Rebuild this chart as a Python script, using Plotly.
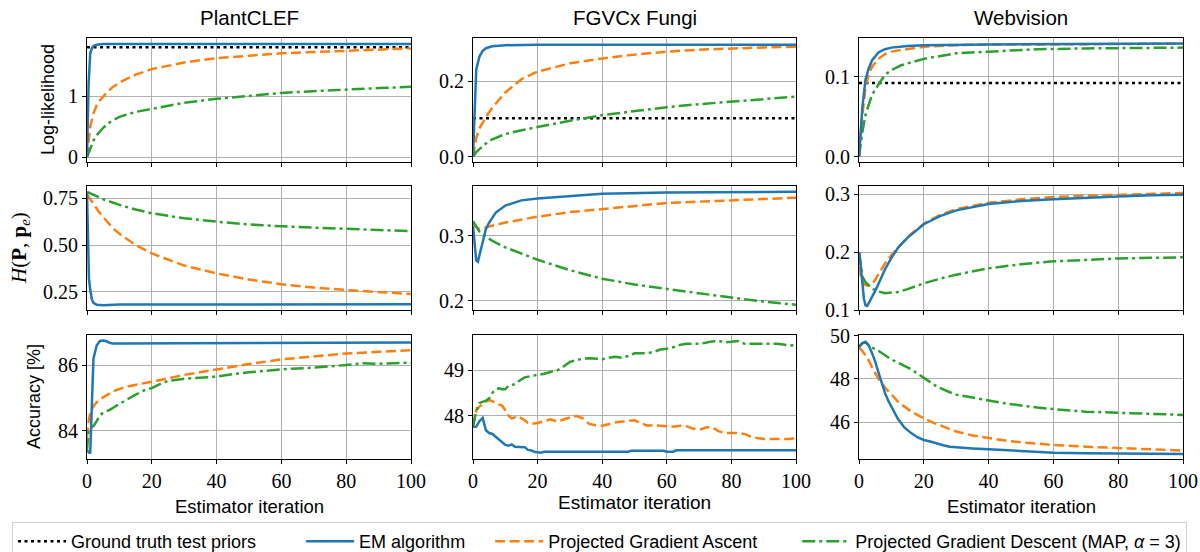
import plotly.graph_objects as go

# ---------------- DATA ----------------
datasets = ["PlantCLEF", "FGVCx Fungi", "Webvision"]
series_names = ["Ground truth test priors", "EM algorithm", "Projected Gradient Ascent",
                "Projected Gradient Descent (MAP, <i>α</i> = 3)"]
row_labels = ["Log-likelihood", "<i>H</i>(<b>P</b>, <b>p</b><sub><i>e</i></sub>)", "Accuracy [%]"]
x_label = "Estimator iteration"
x_ticks = [0, 20, 40, 60, 80, 100]

# Ground truth log-likelihood levels (row 1 only)
gt_ll = [1.80, 0.102, 0.092]

# --- Row 1: Log-likelihood ---
ll_plant_em_x = [0, 0.5, 1, 1.5, 2, 3, 5, 10, 100]
ll_plant_em_y = [0, 1.2, 1.70, 1.78, 1.82, 1.84, 1.85, 1.85, 1.85]
ll_plant_pga_x = [0, 0.5, 1, 2, 3, 4, 6, 8, 10, 15, 20, 30, 40, 50, 60, 70, 80, 90, 100]
ll_plant_pga_y = [0, 0.3, 0.5, 0.72, 0.85, 0.93, 1.05, 1.15, 1.22, 1.35, 1.44, 1.55, 1.62, 1.66, 1.70, 1.72, 1.74, 1.76, 1.78]
ll_plant_pgd_x = [0, 1, 2, 3, 5, 7, 10, 15, 20, 30, 40, 50, 60, 70, 80, 90, 100]
ll_plant_pgd_y = [0, 0.15, 0.27, 0.36, 0.48, 0.57, 0.66, 0.74, 0.79, 0.89, 0.955, 1.0, 1.05, 1.08, 1.11, 1.13, 1.15]

ll_fungi_em_x = [0, 0.5, 1, 2, 3, 4, 6, 10, 20, 100]
ll_fungi_em_y = [0, 0.12, 0.23, 0.265, 0.28, 0.287, 0.292, 0.295, 0.296, 0.296]
ll_fungi_pga_x = [0, 1, 2, 3, 4, 6, 8, 10, 15, 20, 30, 40, 50, 60, 70, 80, 90, 100]
ll_fungi_pga_y = [0, 0.05, 0.075, 0.09, 0.105, 0.13, 0.15, 0.17, 0.205, 0.225, 0.247, 0.26, 0.27, 0.278, 0.283, 0.287, 0.289, 0.291]
ll_fungi_pgd_x = [0, 1, 2, 4, 6, 10, 15, 20, 30, 40, 50, 60, 70, 80, 90, 100]
ll_fungi_pgd_y = [0, 0.012, 0.02, 0.035, 0.046, 0.06, 0.07, 0.079, 0.095, 0.110, 0.121, 0.131, 0.139, 0.146, 0.153, 0.159]

ll_web_em_x = [0, 0.5, 1, 2, 3, 4, 6, 8, 10, 15, 20, 40, 100]
ll_web_em_y = [0, 0.035, 0.06, 0.096, 0.11, 0.12, 0.13, 0.134, 0.136, 0.138, 0.139, 0.140, 0.141]
ll_web_pga_x = [0, 0.5, 1, 2, 3, 4, 6, 8, 10, 13, 20, 30, 40, 60, 100]
ll_web_pga_y = [0, 0.03, 0.05, 0.087, 0.103, 0.112, 0.122, 0.128, 0.131, 0.133, 0.137, 0.139, 0.140, 0.140, 0.141]
ll_web_pgd_x = [0, 1, 2, 4, 6, 8, 10, 13, 20, 30, 40, 55, 70, 100]
ll_web_pgd_y = [0, 0.03, 0.052, 0.077, 0.09, 0.102, 0.108, 0.114, 0.122, 0.129, 0.131, 0.134, 0.135, 0.136]

# --- Row 2: H(P, p_e) ---
h_plant_em_x = [0, 0.3, 0.6, 1, 1.5, 2, 3, 5, 10, 100]
h_plant_em_y = [0.78, 0.5, 0.32, 0.26, 0.21, 0.19, 0.18, 0.178, 0.181, 0.183]
h_plant_pga_x = [0, 2, 4, 6, 8, 10, 15, 20, 30, 40, 50, 60, 70, 80, 90, 100]
h_plant_pga_y = [0.77, 0.72, 0.67, 0.63, 0.59, 0.56, 0.50, 0.455, 0.39, 0.348, 0.315, 0.29, 0.272, 0.259, 0.247, 0.238]
h_plant_pgd_x = [0, 2, 5, 10, 15, 20, 30, 40, 50, 60, 70, 80, 90, 100]
h_plant_pgd_y = [0.785, 0.77, 0.745, 0.715, 0.69, 0.67, 0.643, 0.625, 0.61, 0.60, 0.592, 0.585, 0.58, 0.575]

h_fungi_em_x = [0, 0.5, 1, 1.5, 2, 3, 4, 5, 7, 10, 15, 20, 30, 40, 60, 100]
h_fungi_em_y = [0.315, 0.29, 0.262, 0.26, 0.27, 0.287, 0.31, 0.32, 0.335, 0.346, 0.354, 0.357, 0.361, 0.364, 0.366, 0.367]
h_fungi_pga_x = [0, 1, 2, 3, 5, 10, 15, 20, 30, 40, 50, 60, 70, 80, 90, 100]
h_fungi_pga_y = [0.32, 0.313, 0.31, 0.311, 0.314, 0.32, 0.325, 0.329, 0.336, 0.341, 0.346, 0.35, 0.352, 0.354, 0.356, 0.358]
h_fungi_pgd_x = [0, 1, 2, 3, 4, 6, 10, 15, 20, 30, 40, 50, 60, 70, 80, 90, 100]
h_fungi_pgd_y = [0.322, 0.313, 0.306, 0.301, 0.298, 0.292, 0.282, 0.272, 0.263, 0.247, 0.234, 0.225, 0.218, 0.211, 0.205, 0.199, 0.194]

h_web_em_x = [0, 0.5, 1, 1.5, 2, 2.5, 3, 4, 5, 6, 8, 10, 12, 15, 20, 25, 30, 40, 50, 60, 70, 80, 90, 100]
h_web_em_y = [0.2, 0.18, 0.15, 0.12, 0.108, 0.107, 0.112, 0.122, 0.133, 0.145, 0.17, 0.19, 0.207, 0.225, 0.248, 0.262, 0.272, 0.283, 0.288, 0.291, 0.294, 0.296, 0.298, 0.299]
h_web_pga_x = [0, 0.5, 1, 2, 3, 4, 5, 6, 8, 10, 12, 15, 20, 25, 30, 40, 50, 60, 70, 80, 90, 100]
h_web_pga_y = [0.2, 0.16, 0.148, 0.143, 0.142, 0.145, 0.152, 0.162, 0.18, 0.195, 0.208, 0.226, 0.249, 0.264, 0.274, 0.285, 0.291, 0.295, 0.297, 0.299, 0.301, 0.302]
h_web_pgd_x = [0, 0.5, 1, 2, 3, 4, 6, 8, 10, 12, 15, 20, 25, 30, 40, 50, 60, 70, 80, 90, 100]
h_web_pgd_y = [0.2, 0.175, 0.158, 0.148, 0.142, 0.137, 0.132, 0.129, 0.13, 0.131, 0.136, 0.146, 0.154, 0.161, 0.172, 0.179, 0.184, 0.187, 0.189, 0.19, 0.191]

# --- Row 3: Accuracy [%] ---
acc_plant_em_x = [0, 1, 1.5, 2, 3, 4, 5, 6, 7, 8, 10, 20, 30, 100]
acc_plant_em_y = [83.4, 83.32, 84.8, 86.2, 86.6, 86.73, 86.74, 86.72, 86.67, 86.65, 86.65, 86.66, 86.66, 86.68]
acc_plant_pga_x = [0, 0.5, 1, 2, 3, 5, 8, 12, 16, 20, 30, 40, 50, 60, 70, 80, 90, 100]
acc_plant_pga_y = [83.8, 84.3, 84.55, 84.75, 84.87, 85.02, 85.2, 85.34, 85.42, 85.49, 85.7, 85.87, 86.03, 86.17, 86.27, 86.35, 86.4, 86.45]
acc_plant_pgd_x = [0, 0.5, 1, 2, 3, 4, 5, 7, 10, 12, 15, 18, 20, 22, 25, 30, 40, 45, 50, 60, 70, 80, 85, 90, 100]
acc_plant_pgd_y = [83.4, 84.05, 84.1, 84.15, 84.3, 84.48, 84.55, 84.64, 84.82, 84.94, 85.1, 85.25, 85.3, 85.4, 85.52, 85.58, 85.65, 85.72, 85.78, 85.87, 85.92, 86.0, 86.05, 86.04, 86.07]

acc_fungi_em_x = [0, 1, 2, 3, 4, 5, 6, 7, 8, 9, 10, 11, 12, 13, 14, 15, 16, 17, 18, 19, 20, 21, 22, 30, 40, 48, 49, 59, 60, 62, 63, 100]
acc_fungi_em_y = [47.75, 47.76, 47.88, 47.95, 47.68, 47.62, 47.60, 47.54, 47.46, 47.40, 47.36, 47.34, 47.37, 47.32, 47.32, 47.32, 47.31, 47.25, 47.24, 47.21, 47.20, 47.19, 47.21, 47.21, 47.21, 47.21, 47.23, 47.23, 47.21, 47.21, 47.24, 47.24]
acc_fungi_pga_x = [0, 1, 2, 3, 4, 5, 6, 7, 8, 9, 10, 11, 12, 13, 14, 15, 16, 17, 18, 20, 22, 24, 26, 28, 30, 32, 34, 36, 38, 40, 42, 44, 46, 48, 50, 52, 54, 56, 58, 60, 62, 64, 66, 68, 70, 72, 74, 76, 78, 80, 82, 84, 86, 88, 90, 92, 94, 96, 98, 100]
acc_fungi_pga_y = [47.76, 48.12, 48.2, 48.26, 48.31, 48.34, 48.32, 48.27, 48.25, 48.22, 48.12, 48.0, 47.94, 47.96, 47.99, 47.94, 47.9, 47.84, 47.82, 47.84, 47.88, 47.92, 47.87, 47.92, 47.96, 47.99, 47.94, 47.82, 47.79, 47.78, 47.82, 47.85, 47.87, 47.88, 47.9, 47.84, 47.78, 47.79, 47.78, 47.78, 47.76, 47.78, 47.77, 47.72, 47.69, 47.74, 47.75, 47.66, 47.62, 47.62, 47.62, 47.6, 47.54, 47.51, 47.49, 47.49, 47.49, 47.49, 47.49, 47.51]
acc_fungi_pgd_x = [0, 1, 2, 3, 4, 5, 6, 7, 8, 9, 10, 11, 12, 13, 14, 15, 16, 18, 20, 22, 24, 26, 28, 30, 32, 34, 36, 38, 40, 42, 44, 46, 48, 50, 52, 54, 56, 58, 60, 62, 64, 66, 68, 70, 72, 74, 76, 78, 80, 82, 84, 86, 88, 90, 92, 94, 96, 98, 100]
acc_fungi_pgd_y = [47.76, 48.11, 48.28, 48.3, 48.33, 48.38, 48.5, 48.58, 48.6, 48.58, 48.58, 48.66, 48.68, 48.69, 48.75, 48.8, 48.84, 48.87, 48.89, 48.92, 48.96, 48.99, 49.08, 49.18, 49.22, 49.25, 49.26, 49.25, 49.24, 49.27, 49.29, 49.27, 49.31, 49.37, 49.37, 49.37, 49.4, 49.45, 49.47, 49.5, 49.55, 49.58, 49.58, 49.58, 49.6, 49.63, 49.64, 49.61, 49.62, 49.64, 49.58, 49.58, 49.58, 49.58, 49.58, 49.58, 49.56, 49.54, 49.55]

acc_web_em_x = [0, 1, 2, 3, 4, 5, 6, 7, 8, 9, 10, 12, 14, 16, 18, 20, 22, 24, 26, 28, 30, 35, 40, 50, 60, 70, 80, 90, 100]
acc_web_em_y = [49.5, 49.65, 49.72, 49.55, 49.2, 48.8, 48.3, 47.8, 47.35, 47.0, 46.7, 46.15, 45.75, 45.5, 45.3, 45.17, 45.1, 45.0, 44.93, 44.86, 44.83, 44.78, 44.74, 44.65, 44.58, 44.56, 44.55, 44.53, 44.52]
acc_web_pga_x = [0, 1, 2, 3, 4, 5, 6, 8, 10, 12, 14, 16, 18, 20, 22, 25, 28, 30, 35, 40, 45, 50, 60, 70, 80, 90, 100]
acc_web_pga_y = [49.45, 49.3, 49.08, 48.85, 48.55, 48.25, 48.0, 47.6, 47.25, 46.95, 46.72, 46.5, 46.33, 46.18, 46.03, 45.85, 45.67, 45.56, 45.38, 45.25, 45.15, 45.06, 44.94, 44.86, 44.79, 44.73, 44.68]
acc_web_pgd_x = [0, 1, 2, 3, 4, 6, 8, 10, 12, 14, 16, 18, 20, 22, 24, 26, 28, 30, 35, 40, 45, 50, 55, 60, 65, 70, 80, 90, 100]
acc_web_pgd_y = [49.45, 49.65, 49.68, 49.55, 49.45, 49.3, 49.1, 48.9, 48.75, 48.6, 48.45, 48.25, 48.03, 47.85, 47.65, 47.5, 47.38, 47.27, 47.12, 47.0, 46.87, 46.76, 46.67, 46.6, 46.54, 46.48, 46.43, 46.38, 46.33]

# y tick labels per panel (row-major)
y_ticks = [
    [0, 1], [0.0, 0.2], [0.0, 0.1],
    [0.25, 0.50, 0.75], [0.2, 0.3], [0.1, 0.2, 0.3],
    [84, 86], [48, 49], [46, 48, 50],
]
y_tick_text = [
    ["0", "1"], ["0.0", "0.2"], ["0.0", "0.1"],
    ["0.25", "0.50", "0.75"], ["0.2", "0.3"], ["0.1", "0.2", "0.3"],
    ["84", "86"], ["48", "49"], ["46", "48", "50"],
]

panels = [
    [(ll_plant_em_x, ll_plant_em_y), (ll_plant_pga_x, ll_plant_pga_y), (ll_plant_pgd_x, ll_plant_pgd_y)],
    [(ll_fungi_em_x, ll_fungi_em_y), (ll_fungi_pga_x, ll_fungi_pga_y), (ll_fungi_pgd_x, ll_fungi_pgd_y)],
    [(ll_web_em_x, ll_web_em_y), (ll_web_pga_x, ll_web_pga_y), (ll_web_pgd_x, ll_web_pgd_y)],
    [(h_plant_em_x, h_plant_em_y), (h_plant_pga_x, h_plant_pga_y), (h_plant_pgd_x, h_plant_pgd_y)],
    [(h_fungi_em_x, h_fungi_em_y), (h_fungi_pga_x, h_fungi_pga_y), (h_fungi_pgd_x, h_fungi_pgd_y)],
    [(h_web_em_x, h_web_em_y), (h_web_pga_x, h_web_pga_y), (h_web_pgd_x, h_web_pgd_y)],
    [(acc_plant_em_x, acc_plant_em_y), (acc_plant_pga_x, acc_plant_pga_y), (acc_plant_pgd_x, acc_plant_pgd_y)],
    [(acc_fungi_em_x, acc_fungi_em_y), (acc_fungi_pga_x, acc_fungi_pga_y), (acc_fungi_pgd_x, acc_fungi_pgd_y)],
    [(acc_web_em_x, acc_web_em_y), (acc_web_pga_x, acc_web_pga_y), (acc_web_pgd_x, acc_web_pgd_y)],
]

# ---------------- LAYOUT / STYLE ----------------
W, H = 1200, 552
col_px = [(87, 411), (473, 796), (859, 1183)]
row_px = [(38, 162), (186, 310), (335, 459)]
y_ranges = [
    [-0.08, 1.95], [-0.014, 0.314], [-0.0066, 0.148],
    [0.152, 0.816], [0.186, 0.376], [0.1, 0.314],
    [83.15, 86.91], [47.05, 49.77], [44.29, 50.03],
]
colors = ["#000000", "#1f77b4", "#ff7f0e", "#2ca02c"]
dashes = ["3px,3.5px", "solid", "10px,4.5px", "13px,4px,3px,4px"]
LW = 2.5
SERIF = "Liberation Serif, DejaVu Serif, serif"
SANS = "Liberation Sans, Arial, sans-serif"
NB = "\u00a0"
legend_pad = [NB * 8, NB * 4, NB * 7, ""]  # extra spacing after each legend entry

fig = go.Figure()
layout = dict(
    width=W, height=H,
    margin=dict(l=0, r=0, t=0, b=0, autoexpand=False),
    paper_bgcolor="white", plot_bgcolor="white",
    showlegend=True,
    font=dict(family=SANS, color="black"),
    annotations=[],
)

for k in range(9):
    r, c = divmod(k, 3)
    ax = "" if k == 0 else str(k + 1)
    x0, x1 = col_px[c]
    yt, yb = row_px[r]
    layout["xaxis" + ax] = dict(
        domain=[x0 / W, x1 / W], anchor="y" + ax, range=[0, 100],
        tickvals=x_ticks, ticktext=[str(v) for v in x_ticks] if r == 2 else [""] * len(x_ticks),
        showgrid=True, gridcolor="#b0b0b0", gridwidth=1,
        showline=True, linecolor="black", linewidth=1.2, mirror=True,
        ticks="outside", ticklen=4, tickcolor="black", zeroline=False,
        tickfont=dict(family=SERIF, size=20, color="black"),
    )
    layout["yaxis" + ax] = dict(
        domain=[1 - yb / H, 1 - yt / H], anchor="x" + ax, range=y_ranges[k],
        tickvals=y_ticks[k], ticktext=y_tick_text[k],
        showgrid=True, gridcolor="#b0b0b0", gridwidth=1,
        showline=True, linecolor="black", linewidth=1.2, mirror=True,
        ticks="outside", ticklen=4, tickcolor="black", zeroline=False,
        tickfont=dict(family=SERIF, size=20, color="black"),
    )
    xa, ya = "x" + ax, "y" + ax
    if r == 0:
        fig.add_trace(go.Scatter(
            x=[0, 100], y=[gt_ll[c], gt_ll[c]], mode="lines", xaxis=xa, yaxis=ya,
            name=series_names[0] + legend_pad[0], legendgroup="gt", showlegend=(k == 0),
            line=dict(color=colors[0], width=LW, dash=dashes[0]), legendrank=1))
    for s in [2, 3, 1]:
        xs, ys = panels[k][s - 1]
        fig.add_trace(go.Scatter(
            x=xs, y=ys, mode="lines", xaxis=xa, yaxis=ya,
            name=series_names[s] + legend_pad[s], legendgroup="s%d" % s, showlegend=(k == 0),
            line=dict(color=colors[s], width=LW, dash=dashes[s]), legendrank=s + 1))

ann = layout["annotations"]
# column titles
for c, name in enumerate(datasets):
    x0, x1 = col_px[c]
    ann.append(dict(text=name, x=(x0 + x1) / 2 / W, y=1 - 17 / H, xref="paper", yref="paper",
                    showarrow=False, font=dict(family=SANS, size=20.5), xanchor="center", yanchor="middle"))
# x labels
for c in range(3):
    x0, x1 = col_px[c]
    yy = 502 if c == 1 else 506
    sz = 19 if c == 1 else 18.5
    ann.append(dict(text=x_label, x=(x0 + x1) / 2 / W, y=1 - yy / H, xref="paper", yref="paper",
                    showarrow=False, font=dict(family=SANS, size=sz), xanchor="center", yanchor="middle"))
# y labels
ylab_x = [48, 20, 34]
for r in range(3):
    yt, yb = row_px[r]
    f = dict(family=SERIF, size=21) if r == 1 else dict(family=SANS, size=18)
    ann.append(dict(text=row_labels[r], x=ylab_x[r] / W, y=1 - (yt + yb) / 2 / H, xref="paper", yref="paper",
                    showarrow=False, font=f, textangle=-90, xanchor="center", yanchor="middle"))

layout["legend"] = dict(
    orientation="h", x=12 / W, y=1 - 522 / H, xanchor="left", yanchor="top",
    bordercolor="#d0d0d0", borderwidth=1, bgcolor="white",
    font=dict(family=SANS, size=18), itemwidth=48, traceorder="normal",
)

fig.update_layout(**layout)
fig.write_html("out.html", config={"displayModeBar": False},
               post_script="document.body.style.margin='0px';document.body.style.overflow='hidden';")
